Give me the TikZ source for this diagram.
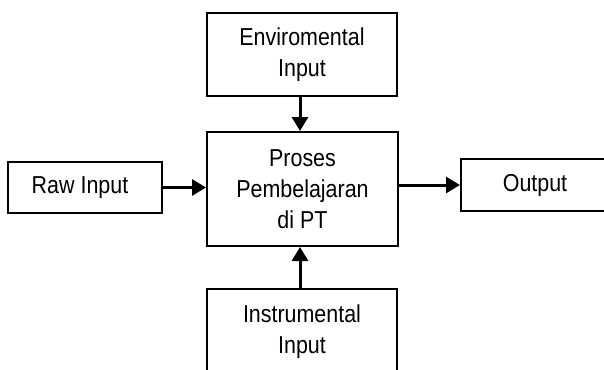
\documentclass[tikz,border=0pt]{standalone}
\usepackage{fontspec}
\setmainfont{Liberation Sans}[FakeStretch=0.875]
\usetikzlibrary{arrows.meta}

\tikzset{
  blok/.style={draw=black, line width=2pt, fill=white, align=center, inner sep=0pt,
               font=\fontsize{24.5pt}{31pt}\selectfont},
  panah/.style={draw=black, line width=3pt, -{Triangle[length=14pt,width=16pt]}}
}

\begin{document}
\begin{tikzpicture}[x=1pt, y=-1pt]
  \useasboundingbox (0,0) rectangle (604,369);
  \clip (0,0) rectangle (604,369);
  \fill[white] (0,0) rectangle (604,369);

  % boxes
  \node[blok, minimum width=190pt, minimum height=83pt] (env) at (302,54.5)
       {Enviromental\\Input};
  \node[blok, minimum width=191pt, minimum height=114pt] (proses) at (302.5,189)
       {Proses\\Pembelajaran\\di PT};
  \node[blok, minimum width=154pt, minimum height=51pt] (raw) at (85,187.5)
       {Raw Input\hspace*{10pt}};
  \node[blok, minimum width=148pt, minimum height=52pt] (out) at (535,185)
       {Output};
  \node[blok, minimum width=190pt, minimum height=85pt] (instr) at (302,331.5)
       {Instrumental\\Input};

  % connectors
  \draw[panah] ([xshift=-2pt]env.south) -- ([xshift=-2pt]env.south |- proses.north);
  \draw[panah] ([xshift=-2pt]instr.north) -- ([xshift=-2pt]instr.north |- proses.south);
  \draw[panah] (raw.east) -- (raw.east -| proses.west);
  \draw[panah] (proses.east |- out.west) -- (out.west);
\end{tikzpicture}
\end{document}
